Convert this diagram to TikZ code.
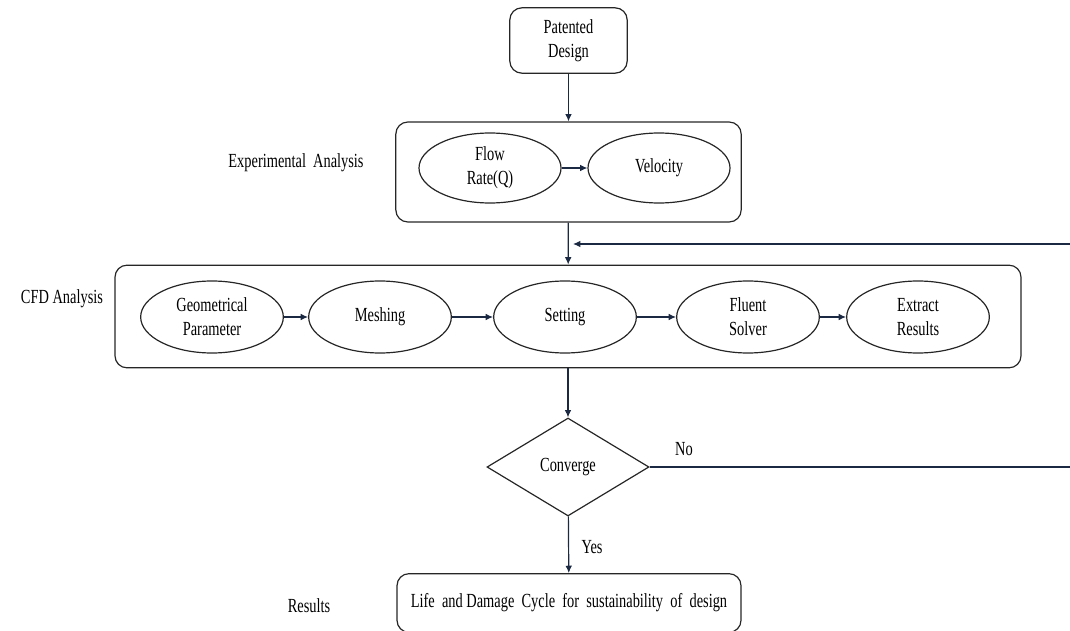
\documentclass[tikz,border=0pt]{standalone}
\usepackage{fontspec}
\setmainfont{Liberation Serif}[FakeStretch=0.72]
\usetikzlibrary{shapes.geometric,arrows.meta}
\definecolor{linkblue}{HTML}{1C2942}
\tikzset{
  txt/.style={font=\fontsize{15pt}{18pt}\selectfont, align=center},
  rbox/.style={txt, draw=black!85, line width=0.9pt, rounded corners=9pt, inner sep=0pt},
  oval/.style={txt, draw=black!85, line width=0.9pt, ellipse, inner sep=0pt,
    minimum width=107pt, minimum height=54pt},
  link/.style={draw=linkblue, line width=0.9pt, -{Latex[length=5.5pt,width=5pt]}}
}
\begin{document}
\begin{tikzpicture}[x=0.75pt,y=-0.75pt]
\clip (0,0) rectangle (1070,631);
\useasboundingbox (0,0) rectangle (1070,631);
% boxes
\node[rbox, minimum width=88pt, minimum height=49pt] (pat) at (568.5,40.5) {Patented\\Design};
\node[rbox, minimum width=259pt, minimum height=75pt] (exp) at (568.5,172) {};
\node[rbox, minimum width=679.5pt, minimum height=77pt] (cfd) at (568,316.5) {};
\node[rbox, minimum width=258pt, minimum height=44pt] (res) at (569,603) {Life\ \ and Damage\ \ Cycle\ \ for\ \ sustainability\ \ of\ \ design};
\node[txt, draw=black!85, line width=0.9pt, diamond, inner sep=0pt,
  minimum width=121.5pt, minimum height=73.5pt] (conv) at (568,467) {Converge};
% side labels
\node[txt] (lexp) at (296,163) {Experimental\ \ Analysis};
\node[txt] (lcfd) at (62,299) {CFD Analysis};
\node[txt] (lres) at (309,606) {Results};
% ovals
\node[oval, minimum width=106.5pt, minimum height=52.5pt] (flow) at (490,168) {Flow\\Rate(Q)};
\node[oval, minimum width=106.5pt, minimum height=52.5pt] (vel) at (659,168) {Velocity};
\node[oval] (geo) at (212,317) {Geometrical\\Parameter};
\node[oval] (mesh) at (380,317) {Meshing};
\node[oval] (set) at (565,317) {Setting};
\node[oval] (sol) at (748,317) {Fluent\\Solver};
\node[oval] (ext) at (918,317) {Extract\\Results};
% links
\draw[link] (pat) -- (exp);
\draw[link] (flow) -- (vel);
\draw[link] (exp) -- (cfd);
\foreach \a/\b in {geo/mesh,mesh/set,set/sol,sol/ext}
  \draw[link] (\a) -- (\b);
\draw[link] (cfd) -- (conv);
\draw[link] (conv) -- node[txt, right, xshift=6pt, yshift=-2pt] {Yes} (res);
%%%%
\coordinate (back1) at (1078,467);
\coordinate (back2) at (1078,244);
\coordinate (join) at (573,244);
\draw[link] (conv.east) -- (back1) -- (back2) -- (join);
\node[txt] (no) at (684,449) {No};
\end{tikzpicture}
\end{document}
